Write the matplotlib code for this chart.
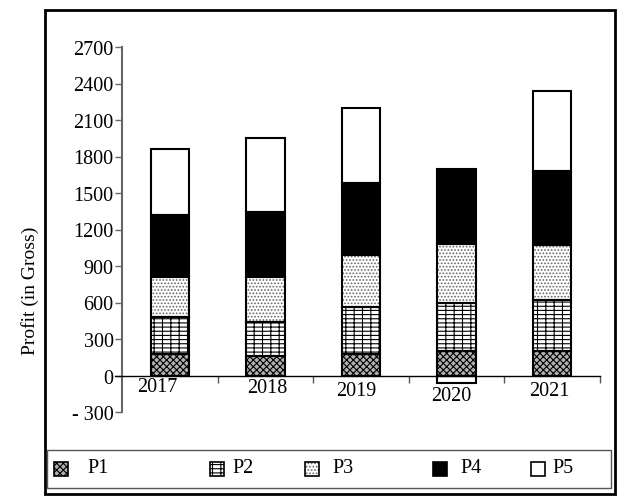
import numpy as np
import matplotlib.pyplot as plt
from matplotlib.patches import Rectangle

# data
years = ['2017', '2018', '2019', '2020', '2021']
series = ['P1', 'P2', 'P3', 'P4', 'P5']
p1 = [180, 160, 180, 200, 200]
p2 = [300, 280, 380, 400, 420]
p3 = [330, 370, 430, 480, 450]
p4 = [510, 530, 590, 620, 610]
p5 = [540, 610, 620, -60, 660]
yticks = list(range(-300, 2701, 300))

# look of each segment: face, hatch, hatch colour
styles = {
    'P1': ('#b0b0b0', 'xxxxx', 'black'),
    'P2': ('white', '----||', 'black'),
    'P3': ('white', '.....', '#666666'),
    'P4': ('black', None, 'black'),
    'P5': ('white', None, 'black'),
}

plt.rcParams['font.family'] = ['Liberation Serif', 'DejaVu Serif']
plt.rcParams['hatch.linewidth'] = 0.8

W, H = 633, 502
fig = plt.figure(figsize=(W / 100, H / 100), dpi=100)


def fx(px):
    return px / W


def fy(py):
    return 1 - py / H


# axes box: x from 122 to 600 px, y from 48 to 413 px
ax = fig.add_axes([fx(122), fy(413), (600 - 122) / W, (413 - 48) / H])
ax.set_xlim(0, 5)
ax.set_ylim(-300, 2700)

x = np.arange(len(years)) + 0.5
pos_cum = np.zeros(len(years))
neg_cum = np.zeros(len(years))
for name, vals in zip(series, [p1, p2, p3, p4, p5]):
    vals = np.array(vals, dtype=float)
    bottoms = np.where(vals >= 0, pos_cum, neg_cum)
    face, hatch, hcol = styles[name]
    ax.bar(x, vals, width=0.4, bottom=bottoms, color=face, edgecolor=hcol,
           hatch=hatch, linewidth=0, zorder=2)
    ax.bar(x, vals, width=0.4, bottom=bottoms, fill=False,
           edgecolor='black', linewidth=1.5, zorder=3)
    pos_cum += np.where(vals >= 0, vals, 0)
    neg_cum += np.where(vals < 0, vals, 0)

# spines
for s in ['top', 'right']:
    ax.spines[s].set_visible(False)
ax.spines['left'].set_color('#666666')
ax.spines['left'].set_linewidth(1.5)
ax.spines['bottom'].set_position(('data', 0))
ax.spines['bottom'].set_bounds(-0.075, 5)
ax.spines['bottom'].set_color('black')
ax.spines['bottom'].set_linewidth(1)
ax.spines['bottom'].set_zorder(4)

ax.set_yticks(yticks)
ax.set_yticklabels([str(t) if t >= 0 else '- ' + str(-t) for t in yticks])
ax.tick_params(axis='y', direction='out', length=5, width=1, color='#666666',
               labelsize=14.5, pad=1)
ax.set_xticks([1, 2, 3, 4, 5])
ax.set_xticklabels([])
ax.tick_params(axis='x', direction='out', length=5, width=1, color='#555555')

# year labels sit a bit unevenly under the bars (pixel offsets)
lab_dx = [-12, 1.5, -5, -5, -2.5]
lab_dy = [10.5, 12.3, 14.5, 19.8, 14.5]
for xi, yr, dx, dy in zip(x, years, lab_dx, lab_dy):
    ax.annotate(yr, (xi, 0), xytext=(dx * 0.72, -dy * 0.72),
                textcoords='offset points', ha='center', va='center',
                fontsize=14.5, annotation_clip=False)

fig.text(fx(30), fy(291), 'Profit (in Gross)', rotation=90,
         ha='center', va='center', fontsize=14)

# outer frame and legend box
fig.add_artist(Rectangle((fx(45), fy(495)), 570 / W, 484 / H, fill=False,
                         edgecolor='black', linewidth=2,
                         transform=fig.transFigure))
fig.add_artist(Rectangle((fx(47), fy(489)), 564 / W, 38 / H, fill=False,
                         edgecolor='#555555', linewidth=1,
                         transform=fig.transFigure))

leg_patch_x = [54, 210, 305, 433, 531]
leg_text_x = [87, 232, 332, 460, 552]
for name, px, tx in zip(series, leg_patch_x, leg_text_x):
    face, hatch, hcol = styles[name]
    fig.add_artist(Rectangle((fx(px), fy(477)), 14 / W, 14 / H,
                             facecolor=face, edgecolor=hcol, hatch=hatch,
                             linewidth=0, transform=fig.transFigure))
    fig.add_artist(Rectangle((fx(px), fy(477)), 14 / W, 14 / H, fill=False,
                             edgecolor='black', linewidth=1.2,
                             transform=fig.transFigure))
    fig.text(fx(tx), fy(469), name, ha='left', va='center', fontsize=14.5)

fig.savefig('out.png', dpi=100)
